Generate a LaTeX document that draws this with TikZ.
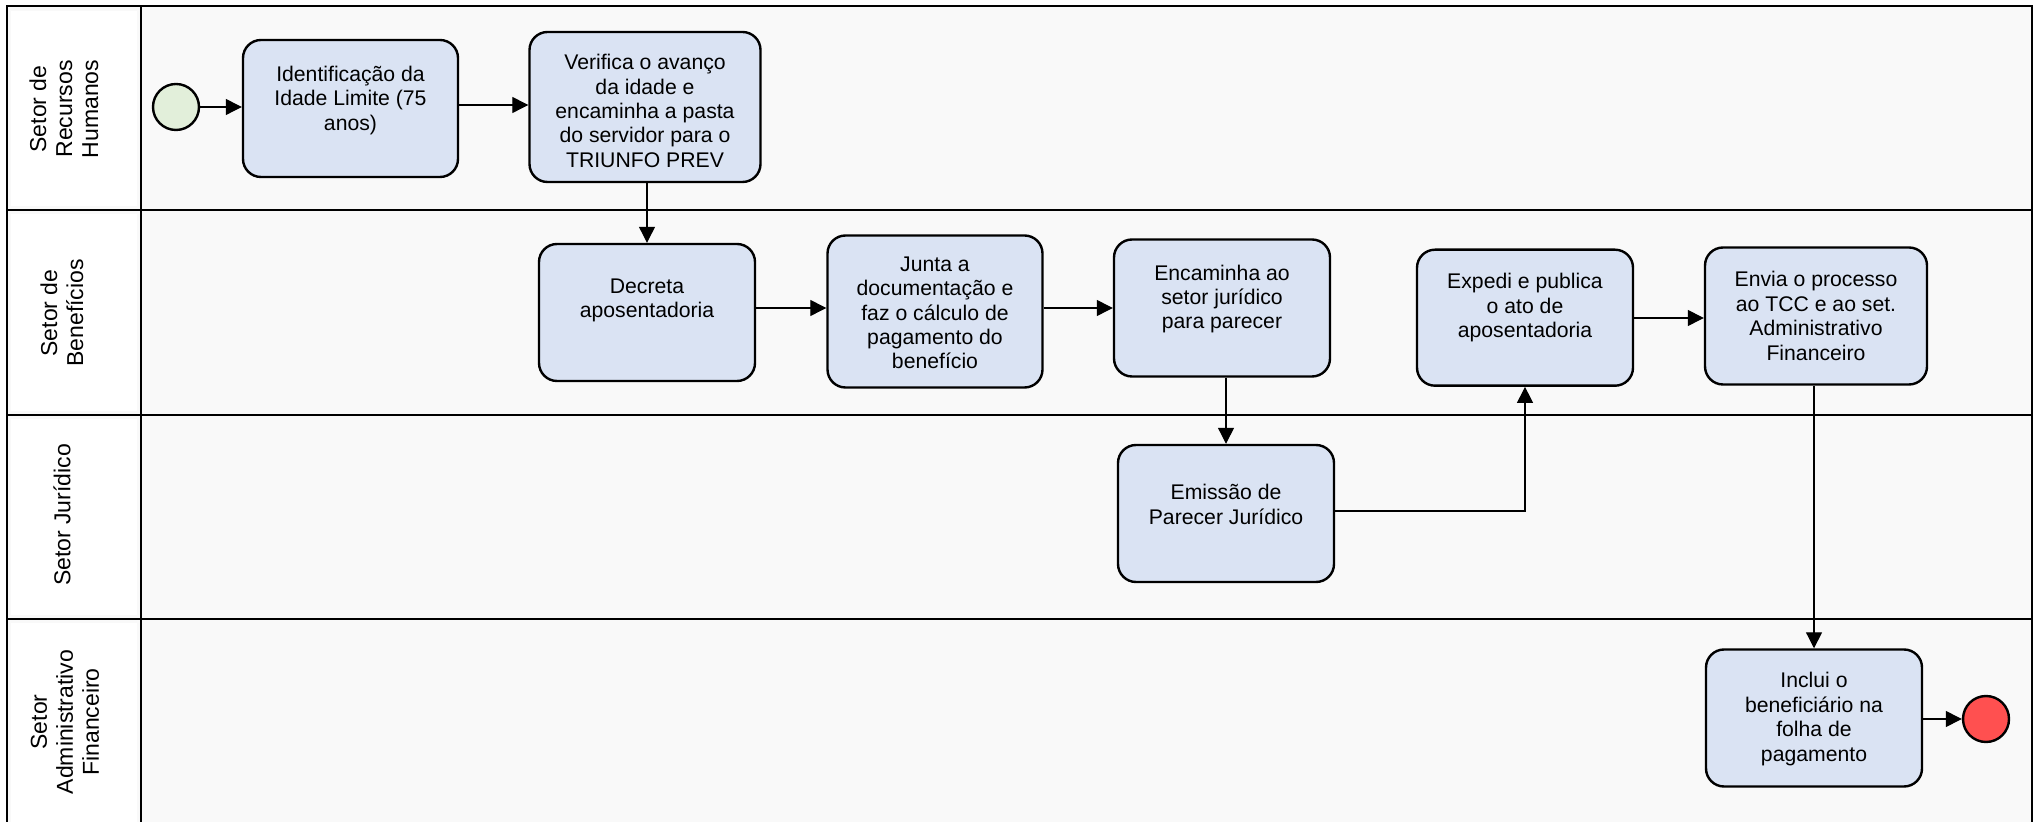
\documentclass[tikz,border=0pt]{standalone}
\usepackage{fontspec}
\setmainfont{Liberation Sans}
\usetikzlibrary{arrows.meta}
\definecolor{taskfill}{RGB}{218,227,243}
\definecolor{lanebg}{RGB}{249,249,249}
\definecolor{startfill}{RGB}{226,239,218}
\definecolor{endfill}{RGB}{255,80,80}
\begin{document}
\begin{tikzpicture}[x=0.5pt,y=-0.5pt,
 task/.style={draw=black, line width=1.2pt, fill=taskfill, rounded corners=9pt, inner sep=0pt},
 tasktext/.style={align=center, font=\fontsize{10.6}{12.2}\selectfont, inner sep=0pt},
 lanelabel/.style={rotate=90, align=center, font=\fontsize{11.5}{13}\selectfont, inner sep=0pt},
 flow/.style={draw=black, line width=0.6pt, -{Triangle[length=8pt,width=8pt]}},
 event/.style={circle, draw=black, line width=1.2pt, minimum size=23pt, inner sep=0pt},
 laneline/.style={draw=black, line width=0.9pt},
 labelcell/.style={fill=white}
]
\useasboundingbox (0,0) rectangle (2044,822);
% lanes background
\fill[lanebg] (7,6) rectangle (2032,830);
\fill[labelcell] (11,11) rectangle (137,206);
\fill[labelcell] (11,214) rectangle (137,411);
\fill[labelcell] (11,419) rectangle (137,615);
\fill[labelcell] (11,623) rectangle (137,830);
% frame and dividers
\draw[laneline] (7,830) -- (7,6) -- (2032,6) -- (2032,830);
\draw[laneline] (141,6) -- (141,830);
\draw[laneline] (7,210) -- (2032,210);
\draw[laneline] (7,415) -- (2032,415);
\draw[laneline] (7,619) -- (2032,619);
% lane labels
\node[lanelabel] (l1) at (64,109) {Setor de\\Recursos\\Humanos};
\node[lanelabel] (l2) at (62,313) {Setor de\\Benefícios};
\node[lanelabel] (l3) at (62,515) {Setor Jurídico};
\node[lanelabel] (l4) at (65,722) {Setor\\Administrativo\\Financeiro};
% events
\node[event, fill=startfill] (s) at (176,107) {};
\node[event, fill=endfill] (e) at (1986,719) {};
% tasks
\node[task, minimum width=107.5pt, minimum height=68.5pt] (b1) at (350.5,108.5) {};
\node[task, minimum width=115.5pt, minimum height=75pt] (b2) at (645,107) {};
\node[task, minimum width=108pt, minimum height=68.5pt] (b3) at (647,312.5) {};
\node[task, minimum width=107.5pt, minimum height=76pt] (b4) at (935,311.5) {};
\node[task, minimum width=108pt, minimum height=68.5pt] (b5) at (1222,308) {};
\node[task, minimum width=108pt, minimum height=68pt] (b6) at (1525,317.7) {};
\node[task, minimum width=111pt, minimum height=68.5pt] (b7) at (1816,316) {};
\node[task, minimum width=108pt, minimum height=68.5pt] (b8) at (1226,513.5) {};
\node[task, minimum width=108pt, minimum height=68.5pt] (b9) at (1814,718) {};
% task texts
\node[tasktext] (t1) at ([yshift=4pt]b1.center) {Identificação da\\Idade Limite (75\\anos)};
\node[tasktext] (t2) at ([yshift=-2pt]b2.center) {Verifica o avanço\\da idade e\\encaminha a pasta\\do servidor para o\\TRIUNFO PREV};
\node[tasktext] (t3) at ([yshift=6pt]b3.center) {Decreta\\aposentadoria};
\node[tasktext] (t4) at ([yshift=-0.75pt]b4.center) {Junta a\\documentação e\\faz o cálculo de\\pagamento do\\benefício};
\node[tasktext] (t5) at ([yshift=4.5pt]b5.center) {Encaminha ao\\setor jurídico\\para parecer};
\node[tasktext] (t6) at ([yshift=5pt]b6.center) {Expedi e publica\\o ato de\\aposentadoria};
\node[tasktext] (t7) at (b7.center) {Envia o processo\\ao TCC e ao set.\\Administrativo\\Financeiro};
\node[tasktext] (t8) at ([yshift=4.5pt]b8.center) {Emissão de\\Parecer Jurídico};
\node[tasktext] (t9) at ([yshift=-0.5pt]b9.center) {Inclui o\\beneficiário na\\folha de\\pagamento};
% flows
\draw[flow] (s.east) -- (s.east -| b1.west);
\draw[flow] (b1.east |- 0,105) -- (b2.west |- 0,105);
\draw[flow] (b3.north |- b2.south) -- (b3.north);
\draw[flow] (b3.east |- 0,308) -- (b4.west |- 0,308);
\draw[flow] (b4.east |- 0,308) -- (b5.west |- 0,308);
\draw[flow] (b8.north |- b5.south) -- (b8.north);
\draw[flow] (b8.east |- 0,511) -| (b6.south);
\draw[flow] (b6.east |- 0,318) -- (b7.west |- 0,318);
\draw[flow] (b9.north |- b7.south) -- (b9.north);
\draw[flow] (b9.east |- e.west) -- (e.west);
\end{tikzpicture}
\end{document}
